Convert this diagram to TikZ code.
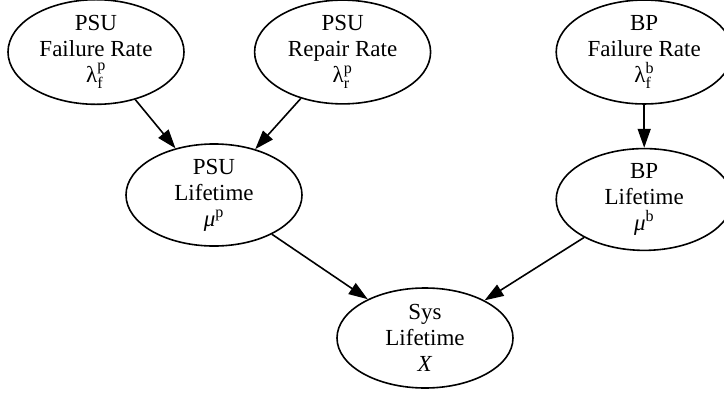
\documentclass[tikz,border=0pt]{standalone}
\usepackage{amsmath}
\usepackage{fontspec}
\setmainfont{Liberation Serif}
\usetikzlibrary{shapes,arrows.meta,positioning}

\begin{document}
\begin{tikzpicture}[
    x=1pt, y=-1pt,
    var/.style={ellipse, draw, line width=1.6pt, minimum width=176pt,
                minimum height=100pt, inner sep=0pt, align=center,
                font=\fontsize{23}{26}\selectfont},
    arrow/.style={-{Triangle[length=19pt,width=13pt]}, line width=1.6pt}
]
\useasboundingbox (0,0) rectangle (724,394);

% rates
\node[var] (psufail) at (96,52) {PSU\\ Failure Rate\\ λ$^{\mathrm{p}}_{\mathrm{f}}$};
\node[var, right=69pt of psufail] (psurep) {PSU\\ Repair Rate\\ λ$^{\mathrm{p}}_{\mathrm{r}}$};
\node[var, right=124pt of psurep] (bpfail) {BP\\ Failure Rate\\ λ$^{\mathrm{b}}_{\mathrm{f}}$};

% lifetimes
\node[var] (psulife) at (214,195) {PSU\\ Lifetime\\ \textit{μ}$^{\mathrm{p}}$};
\node[var, below=43pt of bpfail] (bplife) {BP\\ Lifetime\\ \textit{μ}$^{\mathrm{b}}$};
\node[var] (sys) at (425,338) {Sys\\ Lifetime\\ \textit{X}};

\draw[arrow] (psufail) -- (psulife);
\draw[arrow] (psurep) -- (psulife);
\draw[arrow] (bpfail) -- (bplife);
\draw[arrow] (psulife) -- (sys);
\draw[arrow] (bplife) -- (sys);

\end{tikzpicture}
\end{document}
